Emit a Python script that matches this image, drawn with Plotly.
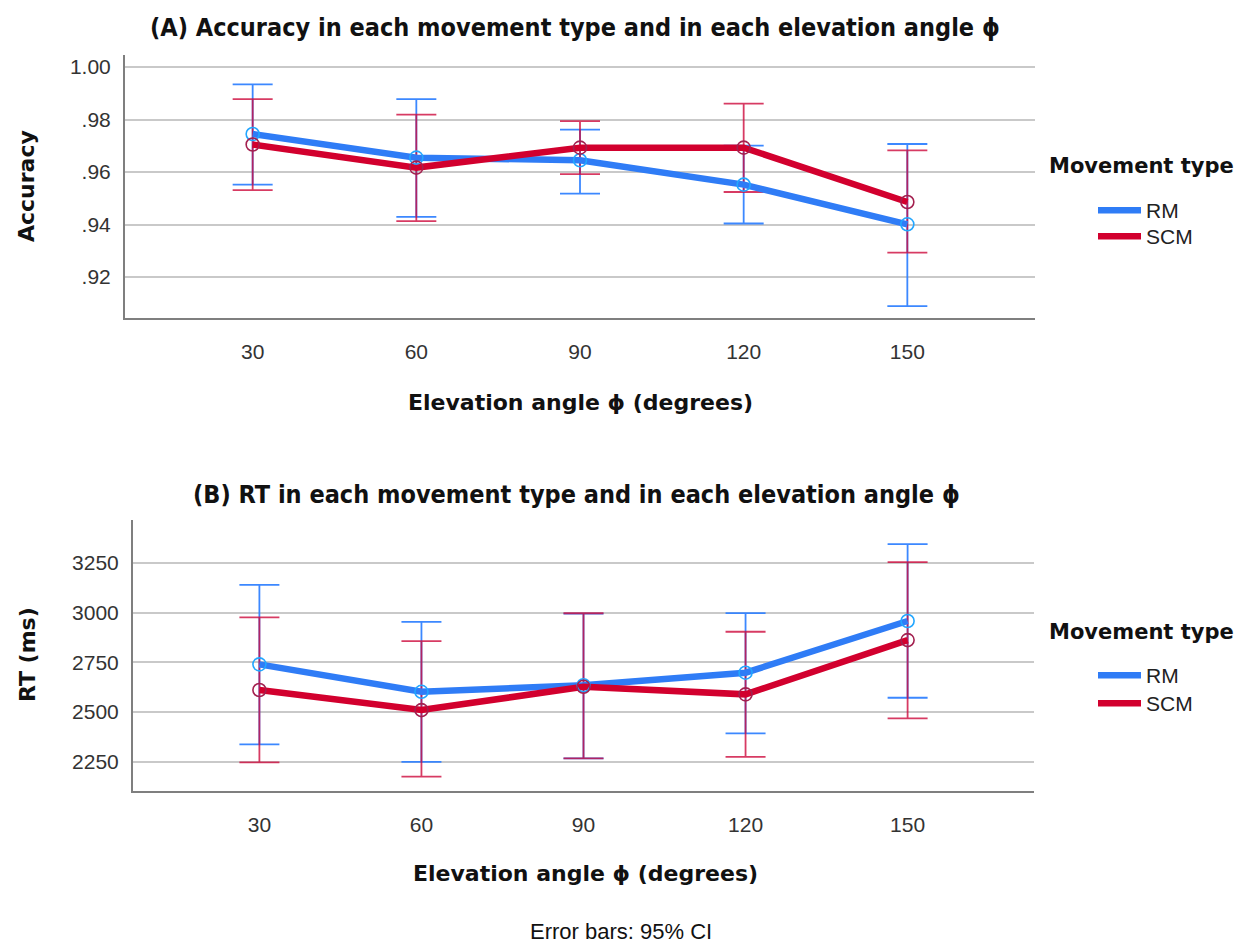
import plotly.graph_objects as go

# Elevation angles (degrees)
angles = ["30", "60", "90", "120", "150"]
series_names = ["RM", "SCM"]

# Accuracy means and 95% CI bounds
acc_rm = [0.9745, 0.9655, 0.9645, 0.9552, 0.9401]
acc_rm_lo = [0.9552, 0.9429, 0.9518, 0.9404, 0.9089]
acc_rm_hi = [0.9934, 0.9878, 0.9762, 0.9701, 0.9707]
acc_scm = [0.9705, 0.9617, 0.9693, 0.9693, 0.9486]
acc_scm_lo = [0.9531, 0.9413, 0.9592, 0.9524, 0.9293]
acc_scm_hi = [0.9878, 0.9819, 0.9794, 0.9861, 0.9683]

# Reaction time means and 95% CI bounds (ms)
rt_rm = [2740, 2602, 2635, 2698, 2958]
rt_rm_lo = [2337, 2249, 2267, 2393, 2572]
rt_rm_hi = [3140, 2954, 2995, 2998, 3345]
rt_scm = [2611, 2510, 2627, 2589, 2862]
rt_scm_lo = [2247, 2175, 2267, 2275, 2468]
rt_scm_hi = [2976, 2857, 2997, 2904, 3254]

# Tick labels
acc_ticks = [0.92, 0.94, 0.96, 0.98, 1.00]
acc_ticktext = [".92", ".94", ".96", ".98", "1.00"]
rt_ticks = [2250, 2500, 2750, 3000, 3250]
rt_ticktext = ["2250", "2500", "2750", "3000", "3250"]

W, H = 1241, 945
LINE_COLORS = {"RM": "#2f7cf6", "SCM": "#d2002e"}
MARKER_COLORS = {"RM": "#22a6ff", "SCM": "#a3204f"}
ERR_COLORS = {"RM": "rgba(50,130,255,0.95)", "SCM": "rgba(205,10,60,0.8)"}

TITLE_FONT = "Liberation Sans Narrow, Arial Narrow, DejaVu Sans Condensed, sans-serif"
BOLD_FONT = "DejaVu Sans, Verdana, sans-serif"
REG_FONT = "Liberation Sans, Arial, sans-serif"


def px_x(p):
    return p / W


def px_y(p):
    return 1 - p / H


fig = go.Figure()

# one legend box per entry so each row can be placed exactly
panels = [
    ("x", "y", {"RM": (acc_rm, acc_rm_lo, acc_rm_hi), "SCM": (acc_scm, acc_scm_lo, acc_scm_hi)},
     {"RM": "legend", "SCM": "legend2"}),
    ("x2", "y2", {"RM": (rt_rm, rt_rm_lo, rt_rm_hi), "SCM": (rt_scm, rt_scm_lo, rt_scm_hi)},
     {"RM": "legend3", "SCM": "legend4"}),
]

for xa, ya, data, legs in panels:
    # error bars first so the thick lines sit on top
    for name in series_names:
        mean, lo, hi = data[name]
        fig.add_trace(go.Scatter(
            x=angles, y=mean, xaxis=xa, yaxis=ya, mode="markers",
            marker=dict(size=1, opacity=0),
            error_y=dict(type="data", symmetric=False,
                         array=[h - m for h, m in zip(hi, mean)],
                         arrayminus=[m - l for m, l in zip(mean, lo)],
                         color=ERR_COLORS[name], thickness=1.8, width=20),
            showlegend=False, hoverinfo="skip",
        ))
    # mean lines (these carry the legend entries)
    for name in series_names:
        mean, lo, hi = data[name]
        fig.add_trace(go.Scatter(
            x=angles, y=mean, xaxis=xa, yaxis=ya, mode="lines", name=name,
            line=dict(color=LINE_COLORS[name], width=6.5),
            legend=legs[name], hoverinfo="skip",
        ))
    # open circles at the means
    for name in series_names:
        mean, lo, hi = data[name]
        fig.add_trace(go.Scatter(
            x=angles, y=mean, xaxis=xa, yaxis=ya, mode="markers", name=name,
            marker=dict(symbol="circle-open", size=13, color=MARKER_COLORS[name],
                        line=dict(width=1.6, color=MARKER_COLORS[name])),
            showlegend=False,
        ))

axis_common = dict(
    showline=True, linecolor="#7f7f7f", linewidth=2, zeroline=False,
    ticks="", tickfont=dict(family=REG_FONT, size=21, color="#333333"),
    automargin=False,
)

legend_common = dict(
    xanchor="left", yanchor="top",
    font=dict(family=REG_FONT, size=21, color="#222222"),
    itemwidth=43, tracegroupgap=0, bgcolor="rgba(0,0,0,0)",
)

fig.update_layout(
    width=W, height=H,
    margin=dict(l=0, r=0, t=0, b=0),
    paper_bgcolor="white", plot_bgcolor="white",
    xaxis=dict(domain=[px_x(125), px_x(1035)], anchor="y", type="category",
               range=[-0.78, 4.78], showgrid=False, ticklabelstandoff=14, **axis_common),
    yaxis=dict(domain=[px_y(318), px_y(55)], anchor="x", range=[0.9044, 1.0046],
               tickvals=acc_ticks, ticktext=acc_ticktext, showgrid=True,
               gridcolor="#c9c9c9", gridwidth=2, ticklabelstandoff=8, **axis_common),
    xaxis2=dict(domain=[px_x(133), px_x(1034)], anchor="y2", type="category",
                range=[-0.78, 4.78], showgrid=False, ticklabelstandoff=14, **axis_common),
    yaxis2=dict(domain=[px_y(791), px_y(520)], anchor="x2", range=[2103, 3466],
                tickvals=rt_ticks, ticktext=rt_ticktext, showgrid=True,
                gridcolor="#c9c9c9", gridwidth=2, ticklabelstandoff=8, **axis_common),
    legend=dict(x=px_x(1093), y=px_y(190), **legend_common),
    legend2=dict(x=px_x(1093), y=px_y(216), **legend_common),
    legend3=dict(x=px_x(1093), y=px_y(655), **legend_common),
    legend4=dict(x=px_x(1093), y=px_y(683), **legend_common),
    showlegend=True,
)

texts = [
    # (text, x px, y px, font family, size, bold, rotation)
    ("(A) Accuracy in each movement type and in each elevation angle ϕ", 575, 27, TITLE_FONT, 25, True, 0),
    ("(B) RT in each movement type and in each elevation angle ϕ", 576, 494, TITLE_FONT, 25, True, 0),
    ("Elevation angle ϕ (degrees)", 580, 403, BOLD_FONT, 22, True, 0),
    ("Elevation angle ϕ (degrees)", 585, 873, BOLD_FONT, 22, True, 0),
    ("Accuracy", 27, 186, BOLD_FONT, 22, True, -90),
    ("RT (ms)", 27, 655, BOLD_FONT, 22, True, -90),
    ("Movement type", 1141, 166, BOLD_FONT, 21, True, 0),
    ("Movement type", 1141, 632, BOLD_FONT, 21, True, 0),
    ("Error bars: 95% CI", 621, 931, REG_FONT, 22, False, 0),
]
for t, x, y, fam, size, bold, rot in texts:
    fig.add_annotation(
        text=f"<b>{t}</b>" if bold else t, x=px_x(x), y=px_y(y), xref="paper", yref="paper",
        xanchor="center", yanchor="middle", showarrow=False, textangle=rot,
        font=dict(family=fam, size=size, color="#111111"),
    )

fig.write_html("out.html")
